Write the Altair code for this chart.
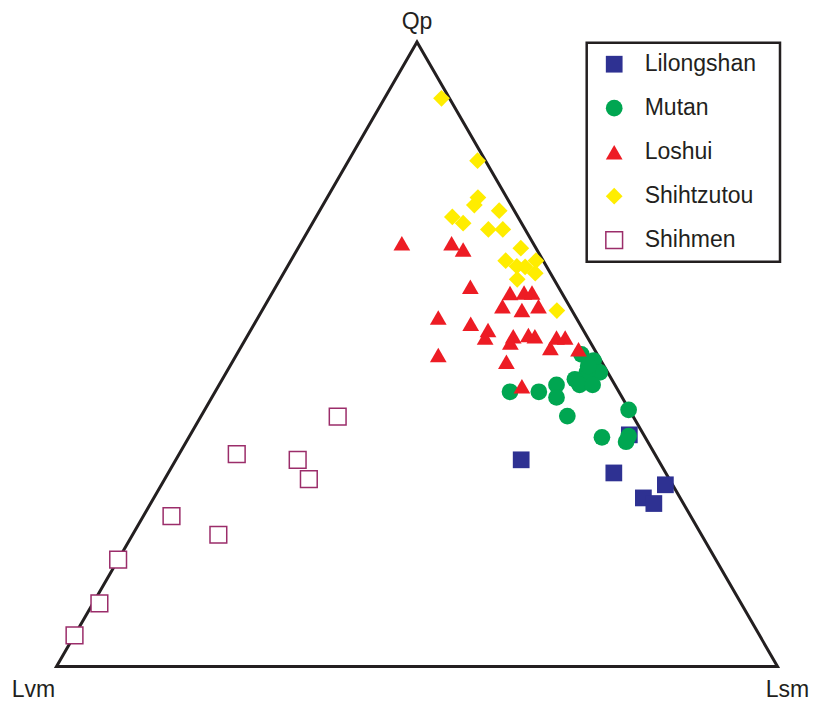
import altair as alt
import pandas as pd

# ---- categories and styles ----
groups = ["Lilongshan", "Mutan", "Loshui", "Shihtzutou", "Shihmen"]
fill_colors = ["#2E3192", "#00A651", "#ED1C24", "#FFED00", "#FFFFFF"]
stroke_colors = ["transparent", "transparent", "transparent", "transparent", "#9B2D6A"]
shapes = ["square", "circle", "triangle-up", "diamond", "square"]
sizes = [280, 280, 340, 400, 205]

# ---- ternary data (Qp, Lsm, Lvm in %) ----
lilongshan_qp = [33.1, 31.0, 29.1, 27.0, 26.1, 37.1]
lilongshan_lsm = [47.9, 61.8, 69.9, 67.9, 69.8, 60.9]
lilongshan_lvm = [19.0, 7.2, 1.0, 5.1, 4.1, 2.0]

mutan_qp = [50.0, 49.0, 47.1, 47.1, 46.0, 45.1, 45.1, 45.1, 43.1, 40.1, 41.1, 36.7, 36.9, 36.0, 44.0, 44.0, 48.1]
mutan_lsm = [47.8, 50.0, 51.8, 50.0, 48.9, 50.0, 51.8, 46.8, 47.8, 50.8, 58.8, 57.3, 60.9, 61.0, 40.9, 44.9, 49.7]
mutan_lvm = [2.2, 1.0, 1.1, 2.9, 5.1, 4.9, 3.1, 8.1, 9.1, 9.1, 0.1, 6.0, 2.2, 3.0, 15.1, 11.1, 2.2]

loshui_qp = [67.8, 67.8, 66.8, 60.8, 59.8, 59.9, 59.9, 57.7, 57.1, 57.7, 55.9, 54.9, 53.9,
             52.7, 52.9, 51.9, 53.1, 52.9, 52.7, 52.7, 51.0, 50.8, 49.9, 48.8, 44.9]
loshui_lsm = [14.0, 20.9, 23.0, 27.0, 33.0, 34.9, 36.0, 33.0, 36.0, 38.0, 25.0, 30.0, 32.9,
              33.1, 36.9, 37.0, 38.9, 39.9, 43.0, 44.2, 43.0, 47.0, 28.0, 38.0, 42.1]
loshui_lvm = [18.2, 11.3, 10.2, 12.2, 7.2, 5.2, 4.1, 9.3, 6.9, 4.3, 19.1, 15.1, 13.2,
              14.2, 10.2, 11.1, 8.0, 7.2, 4.3, 3.1, 6.0, 2.2, 22.1, 13.2, 13.0]

shihtzutou_qp = [91.0, 81.0, 75.1, 73.9, 73.0, 72.0, 71.0, 70.0, 70.0, 67.0, 65.0, 64.1, 64.0, 65.0, 63.0, 62.0, 57.0]
shihtzutou_lsm = [7.9, 17.9, 20.9, 21.0, 24.9, 18.9, 20.9, 24.9, 26.9, 30.9, 29.8, 31.8, 33.0, 34.0, 34.9, 32.9, 40.9]
shihtzutou_lvm = [1.1, 1.1, 4.0, 5.1, 2.1, 9.1, 8.1, 5.1, 3.1, 2.1, 5.2, 4.1, 3.0, 1.0, 2.1, 5.1, 2.1]

shihmen_qp = [40.0, 34.0, 33.1, 30.0, 24.1, 21.1, 17.1, 10.1, 5.0]
shihmen_lsm = [19.0, 8.0, 16.9, 20.0, 3.9, 11.9, 0.0, 0.9, 0.0]
shihmen_lvm = [41.0, 58.0, 50.0, 50.0, 72.0, 67.0, 82.9, 89.0, 95.0]

# triangle apexes
apex_names = ["Lvm", "Qp", "Lsm"]
apex_qp = [0, 100, 0]
apex_lsm = [0, 0, 100]
apex_lvm = [100, 0, 0]

series = [
    ("Lilongshan", lilongshan_qp, lilongshan_lsm, lilongshan_lvm),
    ("Mutan", mutan_qp, mutan_lsm, mutan_lvm),
    ("Loshui", loshui_qp, loshui_lsm, loshui_lvm),
    ("Shihtzutou", shihtzutou_qp, shihtzutou_lsm, shihtzutou_lvm),
    ("Shihmen", shihmen_qp, shihmen_lsm, shihmen_lvm),
]
pts = pd.concat(
    [pd.DataFrame({"group": g, "Qp": q, "Lsm": s, "Lvm": v}) for g, q, s, v in series],
    ignore_index=True,
)

apex = pd.DataFrame({"name": apex_names, "Qp": apex_qp, "Lsm": apex_lsm, "Lvm": apex_lvm})
outline_order = ["Lvm", "Qp", "Lsm", "Lvm", "Qp"]
outline = pd.DataFrame({"name": outline_order, "i": list(range(len(outline_order)))}).merge(apex, on="name")

W, H = 803, 694
k = 7.21  # px per unit
x_dom = [-48.5 / k, -48.5 / k + W / k]
y_dom = [(658.5 - H) / k, 658.5 / k]

xs = alt.Scale(domain=x_dom, nice=False, zero=False)
ys = alt.Scale(domain=y_dom, nice=False, zero=False)


def tern(ch):
    return ch.transform_calculate(
        tx="100*(datum.Lsm + datum.Qp/2)/(datum.Qp + datum.Lsm + datum.Lvm)",
        ty="100*(datum.Qp*sqrt(3)/2)/(datum.Qp + datum.Lsm + datum.Lvm)",
    )


X = alt.X("tx:Q", scale=xs, axis=None)
Y = alt.Y("ty:Q", scale=ys, axis=None)

tri = tern(alt.Chart(outline)).mark_line(
    color="#231F20", strokeWidth=3, strokeJoin="miter", strokeMiterLimit=10
).encode(x=X, y=Y, order=alt.Order("i:Q"))

leg = alt.Legend(
    orient="none", legendX=578.7, legendY=34.7, title=None,
    labelFontSize=23, labelFont="Liberation Sans", labelColor="#231F20",
    symbolStrokeWidth=1.5, rowPadding=20, padding=10,
    symbolOffset=6, labelOffset=19,
)

points = tern(alt.Chart(pts)).mark_point(
    filled=True, opacity=1, strokeWidth=1.5
).encode(
    x=X, y=Y,
    fill=alt.Fill("group:N", scale=alt.Scale(domain=groups, range=fill_colors), legend=leg),
    stroke=alt.Stroke("group:N", scale=alt.Scale(domain=groups, range=stroke_colors), legend=leg),
    shape=alt.Shape("group:N", scale=alt.Scale(domain=groups, range=shapes), legend=leg),
    size=alt.Size("group:N", scale=alt.Scale(domain=groups, range=sizes), legend=leg),
)

box = alt.Chart(pd.DataFrame({"a": [0]})).mark_rect(
    fillOpacity=0, stroke="#231F20", strokeWidth=2.5
).encode(x=alt.value(578.7), x2=alt.value(772), y=alt.value(34.7), y2=alt.value(253.7))

lab_style = dict(font="Liberation Sans", fontSize=23, color="#231F20", align="center", baseline="alphabetic")
lab_qp = tern(alt.Chart(apex)).transform_filter("datum.name == 'Qp'").mark_text(dy=-13, **lab_style).encode(x=X, y=Y, text="name:N")
lab_lvm = tern(alt.Chart(apex)).transform_filter("datum.name == 'Lvm'").mark_text(dx=-23, dy=30, **lab_style).encode(x=X, y=Y, text="name:N")
lab_lsm = tern(alt.Chart(apex)).transform_filter("datum.name == 'Lsm'").mark_text(dx=10, dy=30, **lab_style).encode(x=X, y=Y, text="name:N")

chart = alt.layer(tri, points, box, lab_qp, lab_lvm, lab_lsm).properties(
    width=W, height=H, padding=0, autosize=alt.AutoSizeParams(type="none")
).configure_view(strokeWidth=0)

chart.save("out.html", embed_options={"renderer": "svg", "actions": False})
